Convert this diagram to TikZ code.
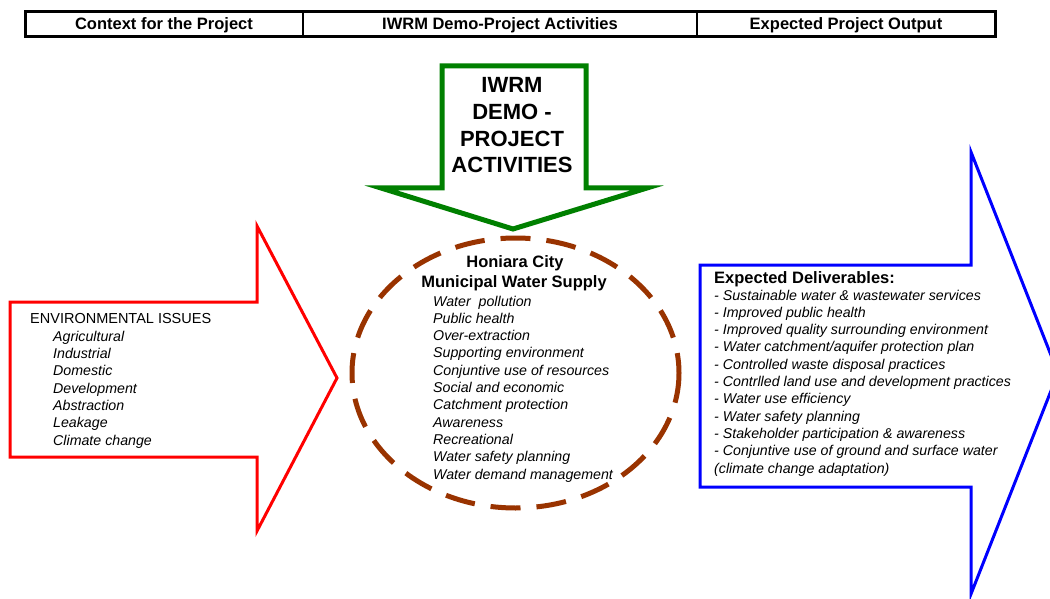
\documentclass[tikz,border=0pt]{standalone}
\usepackage{fontspec}
\setmainfont{Liberation Sans}
\definecolor{arrred}{RGB}{255,0,0}
\definecolor{arrgreen}{RGB}{0,128,0}
\definecolor{arrblue}{RGB}{0,0,255}
\definecolor{ovalbrown}{RGB}{153,51,0}
\begin{document}
\begin{tikzpicture}[x=1pt,y=-1pt,
  hdr/.style={font=\fontsize{16.5}{19}\selectfont\bfseries, inner sep=0},
  ttl/.style={font=\fontsize{22}{27}\selectfont\bfseries, inner sep=0, align=center},
  head/.style={font=\fontsize{16.5}{19}\selectfont\bfseries, inner sep=0},
  item/.style={font=\fontsize{14.2}{17.3}\selectfont\itshape, inner sep=0, align=left, anchor=base west},
  shapeline/.style={line join=miter, miter limit=10}]
\useasboundingbox (0,0) rectangle (1050,599);
\fill[white] (0,0) rectangle (1050,599);
% header bar
\draw[line width=3] (25,12) rectangle (995,37);
\draw[line width=2] (303,12) -- (303,37);
\draw[line width=2] (697,12) -- (697,37);
\node[hdr] (h1) at (164,25) {Context for the Project};
\node[hdr] (h2) at (500,25) {IWRM Demo-Project Activities};
\node[hdr] (h3) at (846,25) {Expected Project Output};
% green arrow
\draw[arrgreen, line width=5, shapeline] (442,66) -- (586,66) -- (586,188) -- (647,188) -- (513,229) -- (381,188) -- (442,188) -- cycle;
\node[ttl, anchor=base] (act) at (512,173) {IWRM\\DEMO -\\PROJECT\\ACTIVITIES};
% red arrow
\draw[arrred, line width=3, shapeline] (10,302) -- (257,302) -- (257,226) -- (337,378) -- (257,531) -- (257,457) -- (10,457) -- cycle;
\node[font=\fontsize{14.5}{17.3}\selectfont, inner sep=0, anchor=base west] (env) at (30,323) {ENVIRONMENTAL ISSUES};
\node[item] (envlist) at (53,445) {Agricultural\\Industrial\\Domestic\\Development\\Abstraction\\Leakage\\Climate change};
% dashed oval
\draw[ovalbrown, line width=5, dash pattern=on 30pt off 16pt] (515.5,373) ellipse [x radius=163.5, y radius=135];
\node[head, anchor=base] (city) at (515,267) {Honiara City};
\node[head, anchor=base] (mws) at (514,287) {Municipal Water Supply};
\node[item] (ovallist) at (433,479) {Water\ \ pollution\\Public health\\Over-extraction\\Supporting environment\\Conjuntive use of resources\\Social and economic\\Catchment protection\\Awareness\\Recreational\\Water safety planning\\Water demand management};
% blue arrow
\begin{scope}
\clip (0,0) rectangle (1050,599);
\draw[arrblue, line width=3, shapeline] (700,265) -- (971,265) -- (971,152) -- (1058,373) -- (971,594) -- (971,487) -- (700,487) -- cycle;
\end{scope}
\node[head, anchor=base west] (deliv) at (714,283) {Expected Deliverables:};
\node[item] (delivlist) at (714,473) {- Sustainable water \& wastewater services\\- Improved public health\\- Improved quality surrounding environment\\- Water catchment/aquifer protection plan\\- Controlled waste disposal practices\\- Contrlled land use and development practices\\- Water use efficiency\\- Water safety planning\\- Stakeholder participation \& awareness\\- Conjuntive use of ground and surface water\\(climate change adaptation)};
\end{tikzpicture}
\end{document}
